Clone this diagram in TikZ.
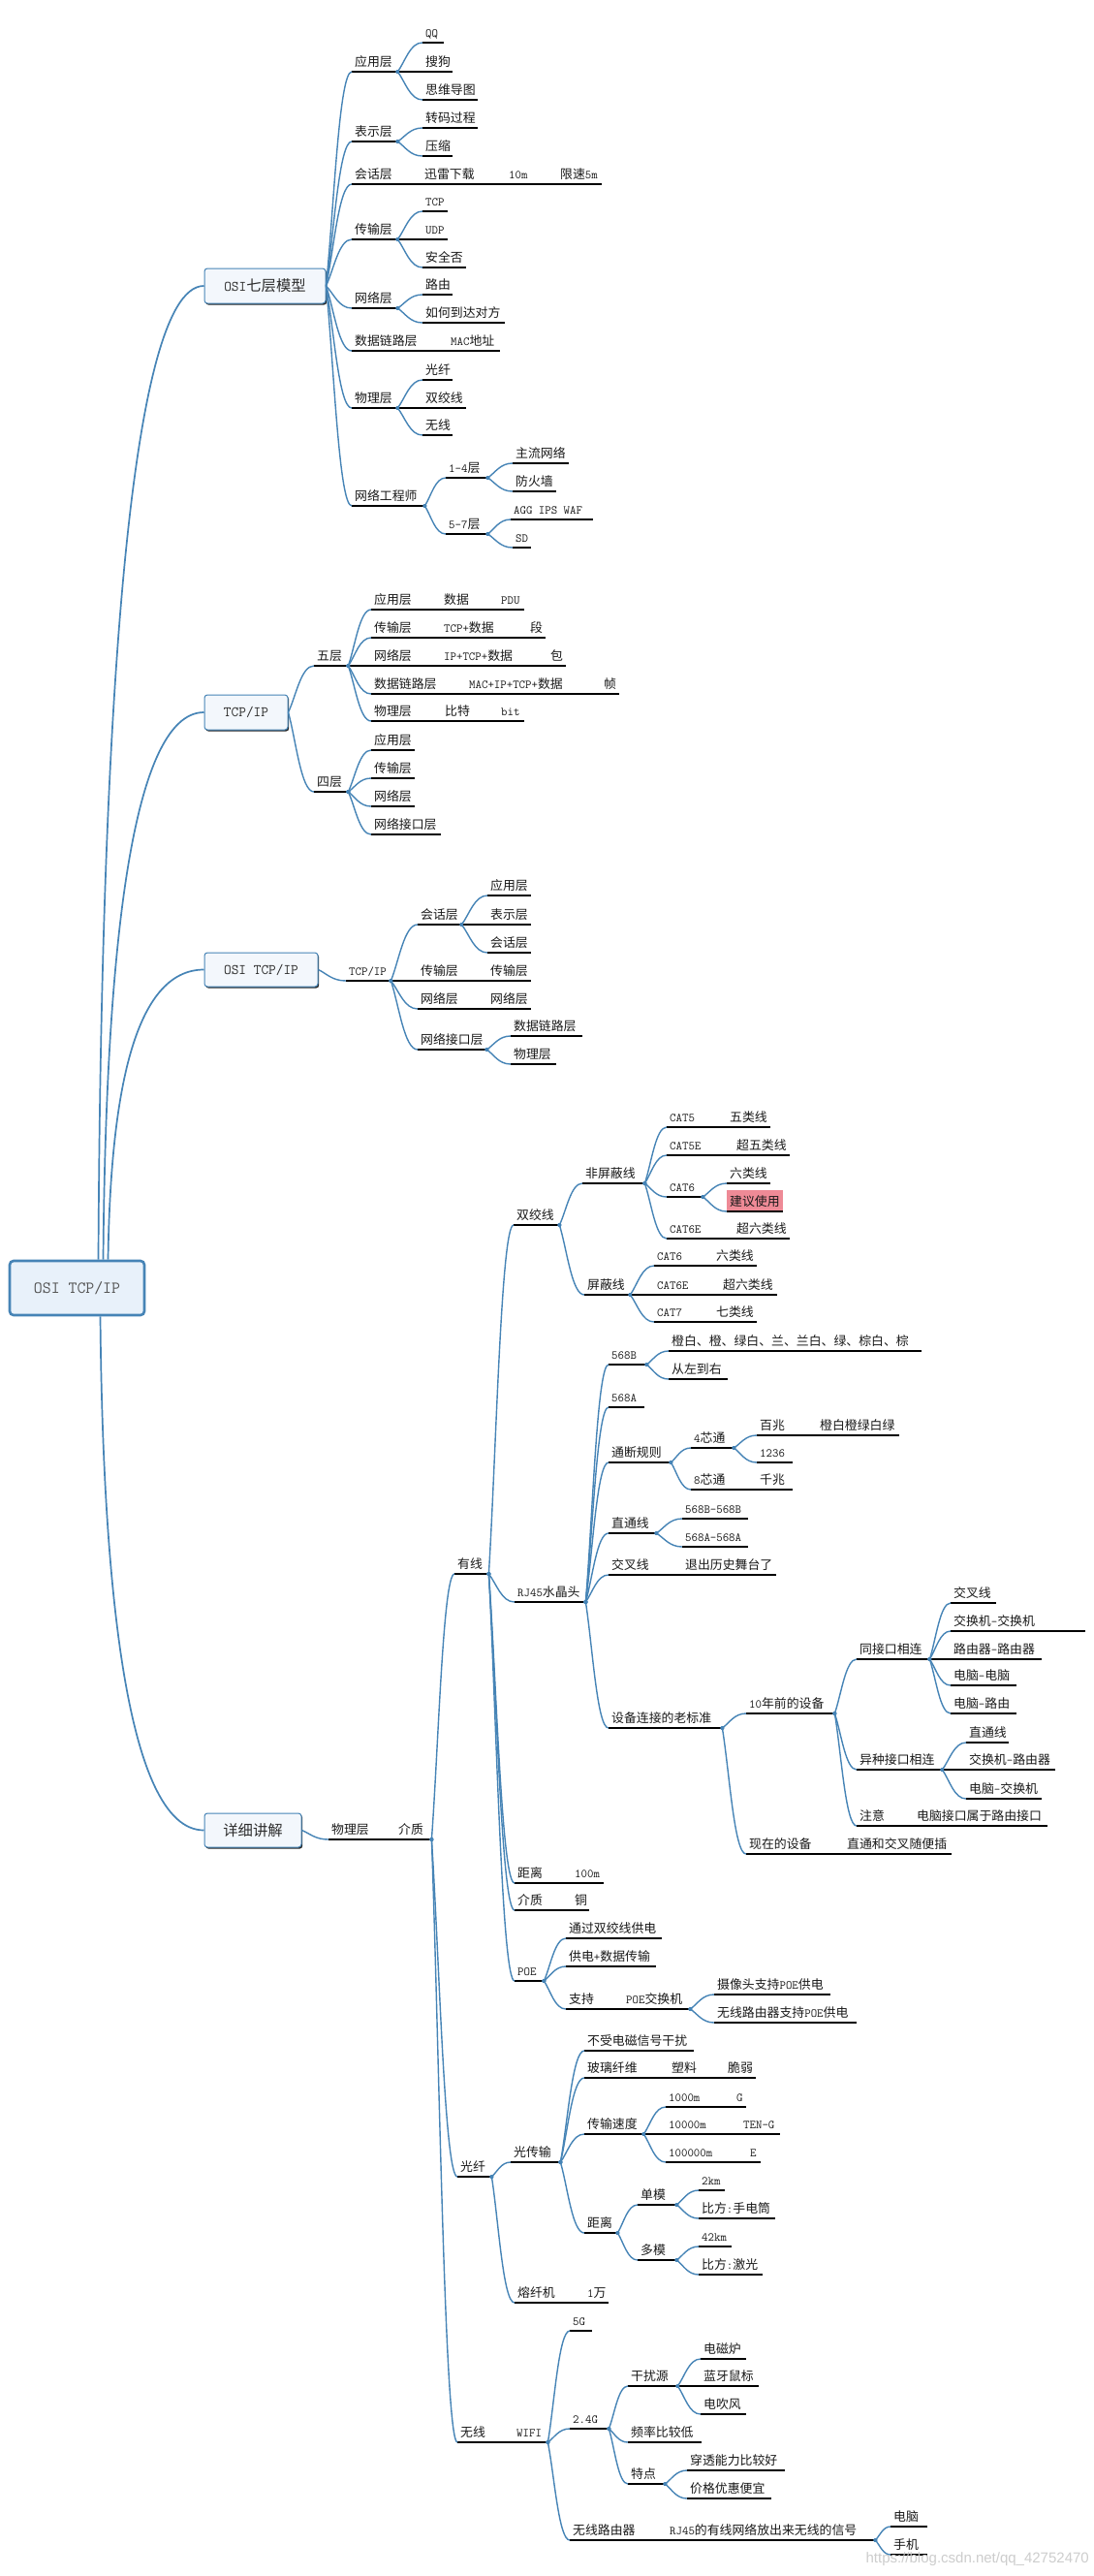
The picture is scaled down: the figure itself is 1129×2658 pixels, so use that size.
\documentclass[tikz,border=0pt]{standalone}
\usepackage{fontspec}
\newfontfamily\cjkfont[Scale=1.03]{Noto Sans CJK SC}
\newfontfamily\wmfont{Liberation Sans}
\usetikzlibrary{calc,shadows}
\XeTeXinterchartokenstate=1
\newXeTeXintercharclass\CJKcls
\newcount\ccnt
\ccnt="3000
\loop\ifnum\ccnt<"A000\relax \XeTeXcharclass\ccnt=\CJKcls \advance\ccnt by 1 \repeat
\ccnt="FF00
\loop\ifnum\ccnt<"FFF0\relax \XeTeXcharclass\ccnt=\CJKcls \advance\ccnt by 1 \repeat
\XeTeXinterchartoks 0 \CJKcls = {\cjkfont}
\XeTeXinterchartoks 4095 \CJKcls = {\cjkfont}
\XeTeXinterchartoks \CJKcls 0 = {\ttfamily}
\definecolor{connc}{RGB}{70,132,182}
\definecolor{mfill}{RGB}{243,247,252}
\definecolor{rfill}{RGB}{232,241,250}
\definecolor{hlc}{RGB}{238,138,150}
\definecolor{txtc}{RGB}{25,25,25}
\definecolor{maintxt}{RGB}{45,45,45}
\definecolor{roottxt}{RGB}{85,85,85}
\definecolor{wmc}{RGB}{205,205,205}
\newcommand\leaff{\fontsize{12.5}{15}\selectfont\ttfamily}
\newcommand\mainf{\fontsize{14.9}{17}\selectfont\ttfamily}
\newcommand\rootf{\fontsize{17.3}{20}\selectfont\ttfamily}
\tikzset{
  tp/.style={anchor=south west, inner xsep=3pt, inner ysep=5pt, text depth=0pt, font=\leaff, text=txtc},
  hl/.style={fill=hlc, text height=12pt},
  ul/.style={draw=black, line width=1.3pt},
  conn/.style={draw=connc, line width=1.4pt},
  rootconn/.style={draw=connc, line width=1.7pt},
  mainbox/.style={draw=connc, fill=mfill, rounded corners=3pt, line width=1pt, inner sep=0pt, font=\mainf, text=maintxt,
    drop shadow={shadow xshift=1.2pt, shadow yshift=-1.6pt, opacity=1, fill=black!85}},
  rootbox/.style={draw=connc, fill=rfill, rounded corners=4pt, line width=2.6pt, inner sep=0pt, font=\rootf, text=roottxt},
}
\newcommand\mmnode[6][]{\pgfmathsetmacro\tw{#5-#3-6}\node[tp,#1] (#2) at (#3,#4) {\makebox[\tw pt][l]{#6}};\draw[ul] (#2.south west) -- (#2.south east);}
\newcommand\mmcc[2]{\draw[conn] let \p1=(#1), \p2=(#2) in (\p1) .. controls ({\x1+0.3*(\x2-\x1)},{\y1+0.35*(\y2-\y1)}) and ({0.5*(\x1+\x2)},\y2) .. (\p2);}
\newcommand\mmcn[2]{\mmcc{#1.south east}{#2.south west}\fill[connc] (#1.south east) circle (2pt);}
\newcommand\mmsn[2]{\draw[ul] (#1.south east) -- (#2.south west);}
\begin{document}
\begin{tikzpicture}[x=1pt,y=-1pt]
\fill[white] (0,0) rectangle (1129,2658);
\useasboundingbox (0,0) rectangle (1129,2658);
% main boxes
\node[rootbox, minimum width=139pt, minimum height=56pt] (root) at (79.5,1329) {OSI TCP/IP};
\node[mainbox, minimum width=125pt, minimum height=36pt] (m1) at (273.5,295) {OSI七层模型};
\node[mainbox, minimum width=86pt, minimum height=36pt] (m2) at (254,735) {TCP/IP};
\node[mainbox, minimum width=117pt, minimum height=35pt] (m3) at (269.5,1000.5) {OSI TCP/IP};
\node[mainbox, minimum width=100pt, minimum height=35pt] (m4) at (261,1888.5) {详细讲解};
\draw[rootconn] ([xshift=22pt]root.north) .. controls (104,800) and (128,295) .. (m1.west);
\draw[rootconn] ([xshift=27pt]root.north) .. controls (109,1000) and (133,735) .. (m2.west);
\draw[rootconn] ([xshift=32pt]root.north) .. controls (114,1130) and (138,1000.5) .. (m3.west);
\draw[rootconn] ([xshift=24pt]root.south) .. controls (106,1620) and (128,1888.5) .. (m4.west);
% ---------- OSI seven layers
\mmnode{s1}{363}{74}{410}{应用层}
\mmnode{s1a}{436}{44}{458}{QQ}
\mmnode{s1b}{436}{74}{467}{搜狗}
\mmnode{s1c}{436}{103}{493}{思维导图}
\mmnode{s2}{363}{146}{410}{表示层}
\mmnode{s2a}{436}{132}{493}{转码过程}
\mmnode{s2b}{436}{161}{467}{压缩}
\mmnode{s3}{363}{190}{431}{会话层}
\mmnode{s3a}{435}{190}{518}{迅雷下载}
\mmnode{s3b}{522}{190}{571}{10m}
\mmnode{s3c}{575}{190}{621}{限速5m}
\mmnode{s4}{363}{247}{410}{传输层}
\mmnode{s4a}{436}{218}{462}{TCP}
\mmnode{s4b}{436}{247}{462}{UDP}
\mmnode{s4c}{436}{276}{481}{安全否}
\mmnode{s5}{363}{318}{410}{网络层}
\mmnode{s5a}{436}{304}{467}{路由}
\mmnode{s5b}{436}{333}{521}{如何到达对方}
\mmnode{s6}{363}{362}{458}{数据链路层}
\mmnode{s6a}{462}{362}{516}{MAC地址}
\mmnode{s7}{363}{421}{410}{物理层}
\mmnode{s7a}{436}{392}{467}{光纤}
\mmnode{s7b}{436}{421}{481}{双绞线}
\mmnode{s7c}{436}{449}{467}{无线}
\mmnode{s8}{363}{522}{438}{网络工程师}
\mmnode{s8a}{460}{493}{503}{1-4层}
\mmnode{s8a1}{529}{478}{587}{主流网络}
\mmnode{s8a2}{529}{507}{574}{防火墙}
\mmnode{s8b}{460}{551}{503}{5-7层}
\mmnode{s8b1}{527}{536}{612}{AGG IPS WAF}
\mmnode{s8b2}{529}{565}{548}{SD}
\foreach \c in {s1,s2,s3,s4,s5,s6,s7,s8}{\mmcc{m1.east}{\c.south west}}
\mmcn{s1}{s1a}\mmsn{s1}{s1b}\mmcn{s1}{s1c}
\mmcn{s2}{s2a}\mmcn{s2}{s2b}
\mmsn{s3}{s3a}\mmsn{s3a}{s3b}\mmsn{s3b}{s3c}
\mmcn{s4}{s4a}\mmsn{s4}{s4b}\mmcn{s4}{s4c}
\mmcn{s5}{s5a}\mmcn{s5}{s5b}
\mmsn{s6}{s6a}
\mmcn{s7}{s7a}\mmsn{s7}{s7b}\mmcn{s7}{s7c}
\mmcn{s8}{s8a}\mmcn{s8}{s8b}
\mmcn{s8a}{s8a1}\mmcn{s8a}{s8a2}\mmcn{s8b}{s8b1}\mmcn{s8b}{s8b2}
% ---------- TCP/IP
\mmnode{t1}{324}{687}{359}{五层}
\mmnode{t1a}{383}{629}{452}{应用层}\mmnode{t1a1}{455}{629}{510}{数据}\mmnode{t1a2}{514}{629}{541}{PDU}
\mmnode{t1b}{383}{658}{452}{传输层}\mmnode{t1b1}{455}{658}{541}{TCP+数据}\mmnode{t1b2}{544}{658}{563}{段}
\mmnode{t1c}{383}{687}{452}{网络层}\mmnode{t1c1}{455}{687}{562}{IP+TCP+数据}\mmnode{t1c2}{565}{687}{584}{包}
\mmnode{t1d}{383}{716}{478}{数据链路层}\mmnode{t1d1}{481}{716}{617}{MAC+IP+TCP+数据}\mmnode{t1d2}{620}{716}{639}{帧}
\mmnode{t1e}{383}{744}{452}{物理层}\mmnode{t1e1}{456}{744}{510}{比特}\mmnode{t1e2}{514}{744}{541}{bit}
\mmnode{t2}{324}{817}{359}{四层}
\mmnode{t2a}{383}{774}{428}{应用层}
\mmnode{t2b}{383}{803}{428}{传输层}
\mmnode{t2c}{383}{832}{428}{网络层}
\mmnode{t2d}{383}{861}{455}{网络接口层}
\mmcc{m2.east}{t1.south west}\mmcc{m2.east}{t2.south west}
\mmcn{t1}{t1a}\mmcn{t1}{t1b}\mmsn{t1}{t1c}\mmcn{t1}{t1d}\mmcn{t1}{t1e}
\mmsn{t1a}{t1a1}\mmsn{t1a1}{t1a2}\mmsn{t1b}{t1b1}\mmsn{t1b1}{t1b2}\mmsn{t1c}{t1c1}\mmsn{t1c1}{t1c2}
\mmsn{t1d}{t1d1}\mmsn{t1d1}{t1d2}\mmsn{t1e}{t1e1}\mmsn{t1e1}{t1e2}
\mmcn{t2}{t2a}\mmcn{t2}{t2b}\mmcn{t2}{t2c}\mmcn{t2}{t2d}
% ---------- OSI TCP/IP
\mmnode{u1}{357}{1012}{403}{TCP/IP}
\mmnode{u1a}{431}{954}{476}{会话层}
\mmnode{u1a1}{503}{924}{548}{应用层}
\mmnode{u1a2}{503}{954}{548}{表示层}
\mmnode{u1a3}{503}{983}{548}{会话层}
\mmnode{u1b}{431}{1012}{500}{传输层}\mmnode{u1b1}{503}{1012}{548}{传输层}
\mmnode{u1c}{431}{1041}{500}{网络层}\mmnode{u1c1}{503}{1041}{548}{网络层}
\mmnode{u1d}{431}{1083}{502}{网络接口层}
\mmnode{u1d1}{527}{1069}{601}{数据链路层}
\mmnode{u1d2}{527}{1098}{574}{物理层}
\mmcc{m3.east}{u1.south west}
\mmcn{u1}{u1a}\mmsn{u1}{u1b}\mmcn{u1}{u1c}\mmcn{u1}{u1d}
\mmcn{u1a}{u1a1}\mmsn{u1a}{u1a2}\mmcn{u1a}{u1a3}
\mmsn{u1b}{u1b1}\mmsn{u1c}{u1c1}
\mmcn{u1d}{u1d1}\mmcn{u1d}{u1d2}
% ---------- detail
\mmnode{p}{339}{1898}{405}{物理层}\mmnode{pm}{408}{1898}{445}{介质}
\mmcc{m4.east}{p.south west}\mmsn{p}{pm}
\mmnode{w}{469}{1624}{504}{有线}
\mmnode{w1}{530}{1264}{577}{双绞线}
\mmnode{w1a}{601}{1221}{665}{非屏蔽线}
\mmnode{c5}{688}{1163}{745}{CAT5}\mmnode{c5x}{750}{1163}{795}{五类线}
\mmnode{c5e}{688}{1192}{752}{CAT5E}\mmnode{c5ex}{757}{1192}{815}{超五类线}
\mmnode{c6}{688}{1235}{725}{CAT6}
\mmnode{c6x}{750}{1221}{795}{六类线}
\mmnode[hl]{c6y}{750}{1250}{808}{建议使用}
\mmnode{c6e}{688}{1278}{752}{CAT6E}\mmnode{c6ex}{757}{1278}{815}{超六类线}
\mmnode{w1b}{603}{1336}{650}{屏蔽线}
\mmnode{d6}{675}{1306}{733}{CAT6}\mmnode{d6x}{736}{1306}{781}{六类线}
\mmnode{d6e}{675}{1336}{740}{CAT6E}\mmnode{d6ex}{743}{1336}{802}{超六类线}
\mmnode{d7}{675}{1364}{733}{CAT7}\mmnode{d7x}{736}{1364}{781}{七类线}
\mmnode{w2}{531}{1653}{604}{RJ45水晶头}
\mmnode{r1}{628}{1408}{667}{568B}
\mmnode{r1a}{690}{1394}{951}{橙白、橙、绿白、兰、兰白、绿、棕白、棕}
\mmnode{r1b}{690}{1423}{751}{从左到右}
\mmnode{r2}{628}{1452}{665}{568A}
\mmnode{r3}{628}{1509}{692}{通断规则}
\mmnode{r3a}{713}{1494}{757}{4芯通}
\mmnode{r3a1}{781}{1481}{840}{百兆}\mmnode{r3a1x}{843}{1481}{928}{橙白橙绿白绿}
\mmnode{r3a2}{781}{1509}{818}{1236}
\mmnode{r3b}{713}{1537}{757}{8芯通}\mmnode{r3b1}{781}{1537}{818}{千兆}
\mmnode{r4}{628}{1582}{677}{直通线}
\mmnode{r4a}{704}{1567}{772}{568B-568B}
\mmnode{r4b}{704}{1596}{772}{568A-568A}
\mmnode{r5}{628}{1625}{700}{交叉线}\mmnode{r5a}{704}{1625}{801}{退出历史舞台了}
\mmnode{r6}{628}{1783}{745}{设备连接的老标准}
\mmnode{r6a}{770}{1768}{861}{10年前的设备}
\mmnode{r6a1}{884}{1712}{959}{同接口相连}
\mmnode{q1}{981}{1654}{1028}{交叉线}
\mmnode{q2}{981}{1683}{1075}{交换机-交换机}\mmnode{q2e}{1078}{1683}{1120}{}
\mmnode{q3}{981}{1712}{1075}{路由器-路由器}
\mmnode{q4}{981}{1739}{1049}{电脑-电脑}
\mmnode{q5}{981}{1768}{1049}{电脑-路由}
\mmnode{r6a2}{884}{1826}{972}{异种接口相连}
\mmnode{q6}{997}{1798}{1041}{直通线}
\mmnode{q7}{997}{1826}{1089}{交换机-路由器}
\mmnode{q8}{997}{1856}{1075}{电脑-交换机}
\mmnode{r6a3}{884}{1884}{940}{注意}\mmnode{r6a3x}{943}{1884}{1081}{电脑接口属于路由接口}
\mmnode{r6b}{770}{1913}{868}{现在的设备}\mmnode{r6bx}{871}{1913}{982}{直通和交叉随便插}
\mmnode{w3}{531}{1943}{587}{距离}\mmnode{w3a}{590}{1943}{623}{100m}
\mmnode{w4}{531}{1971}{587}{介质}\mmnode{w4a}{590}{1971}{608}{铜}
\mmnode{w5}{531}{2044}{561}{POE}
\mmnode{w5a}{584}{2000}{683}{通过双绞线供电}
\mmnode{w5b}{584}{2029}{677}{供电+数据传输}
\mmnode{w5c}{584}{2073}{640}{支持}\mmnode{w5cx}{643}{2073}{712}{POE交换机}
\mmnode{w5c1}{737}{2058}{857}{摄像头支持POE供电}
\mmnode{w5c2}{737}{2087}{884}{无线路由器支持POE供电}
\mmnode{f}{472}{2246}{507}{光纤}
\mmnode{f1}{527}{2231}{578}{光传输}
\mmnode{f1a}{603}{2116}{716}{不受电磁信号干扰}
\mmnode{f1b}{603}{2144}{687}{玻璃纤维}\mmnode{f1bx}{690}{2144}{745}{塑料}\mmnode{f1by}{748}{2144}{780}{脆弱}
\mmnode{f1c}{603}{2202}{664}{传输速度}
\mmnode{g1}{687}{2174}{755}{1000m}\mmnode{g1x}{757}{2174}{770}{G}
\mmnode{g2}{687}{2202}{762}{10000m}\mmnode{g2x}{764}{2202}{805}{TEN-G}
\mmnode{g3}{687}{2231}{768}{100000m}\mmnode{g3x}{771}{2231}{785}{E}
\mmnode{f1d}{603}{2304}{637}{距离}
\mmnode{h1}{658}{2275}{698}{单模}
\mmnode{h1a}{721}{2260}{748}{2km}
\mmnode{h1b}{721}{2289}{800}{比方:手电筒}
\mmnode{h2}{658}{2332}{698}{多模}
\mmnode{h2a}{721}{2318}{755}{42km}
\mmnode{h2b}{721}{2347}{787}{比方:激光}
\mmnode{f2}{531}{2376}{600}{熔纤机}\mmnode{f2x}{603}{2376}{628}{1万}
\mmnode{x}{472}{2520}{527}{无线}\mmnode{xw}{530}{2520}{565}{WIFI}
\mmnode{x1}{588}{2405}{611}{5G}
\mmnode{x2}{588}{2506}{628}{2.4G}
\mmnode{x2a}{648}{2462}{699}{干扰源}
\mmnode{x2a1}{723}{2434}{770}{电磁炉}
\mmnode{x2a2}{723}{2462}{783}{蓝牙鼠标}
\mmnode{x2a3}{723}{2491}{770}{电吹风}
\mmnode{x2b}{648}{2520}{724}{频率比较低}
\mmnode{x2c}{648}{2563}{686}{特点}
\mmnode{x2c1}{709}{2549}{810}{穿透能力比较好}
\mmnode{x2c2}{709}{2578}{796}{价格优惠便宜}
\mmnode{x3}{588}{2621}{685}{无线路由器}\mmnode{x3x}{688}{2621}{903}{RJ45的有线网络放出来无线的信号}
\mmnode{x3a}{919}{2607}{957}{电脑}
\mmnode{x3b}{919}{2636}{957}{手机}
% connectors detail
\mmcn{pm}{w}\mmcn{pm}{f}\mmcn{pm}{x}
\mmcn{w}{w1}\mmcn{w}{w2}\mmcn{w}{w3}\mmcn{w}{w4}\mmcn{w}{w5}
\mmcn{w1}{w1a}\mmcn{w1}{w1b}
\mmcn{w1a}{c5}\mmcn{w1a}{c5e}\mmcn{w1a}{c6}\mmcn{w1a}{c6e}
\mmsn{c5}{c5x}\mmsn{c5e}{c5ex}\mmsn{c6e}{c6ex}
\mmcn{c6}{c6x}\mmcn{c6}{c6y}
\mmcn{w1b}{d6}\mmsn{w1b}{d6e}\mmcn{w1b}{d7}
\mmsn{d6}{d6x}\mmsn{d6e}{d6ex}\mmsn{d7}{d7x}
\mmcn{w2}{r1}\mmcn{w2}{r2}\mmcn{w2}{r3}\mmcn{w2}{r4}\mmcn{w2}{r5}\mmcn{w2}{r6}
\mmcn{r1}{r1a}\mmcn{r1}{r1b}
\mmcn{r3}{r3a}\mmcn{r3}{r3b}\mmcn{r3a}{r3a1}\mmcn{r3a}{r3a2}\mmsn{r3a1}{r3a1x}\mmsn{r3b}{r3b1}
\mmcn{r4}{r4a}\mmcn{r4}{r4b}
\mmsn{r5}{r5a}
\mmcn{r6}{r6a}\mmcn{r6}{r6b}
\mmcn{r6a}{r6a1}\mmcn{r6a}{r6a2}\mmcn{r6a}{r6a3}
\mmcn{r6a1}{q1}\mmcn{r6a1}{q2}\mmsn{r6a1}{q3}\mmcn{r6a1}{q4}\mmcn{r6a1}{q5}
\mmsn{q2}{q2e}
\mmcn{r6a2}{q6}\mmsn{r6a2}{q7}\mmcn{r6a2}{q8}
\mmsn{r6a3}{r6a3x}\mmsn{r6b}{r6bx}
\mmsn{w3}{w3a}\mmsn{w4}{w4a}
\mmcn{w5}{w5a}\mmcn{w5}{w5b}\mmcn{w5}{w5c}\mmsn{w5c}{w5cx}\mmcn{w5cx}{w5c1}\mmcn{w5cx}{w5c2}
\mmcn{f}{f1}\mmcn{f}{f2}
\mmcn{f1}{f1a}\mmcn{f1}{f1b}\mmcn{f1}{f1c}\mmcn{f1}{f1d}
\mmsn{f1b}{f1bx}\mmsn{f1bx}{f1by}
\mmcn{f1c}{g1}\mmsn{f1c}{g2}\mmcn{f1c}{g3}
\mmsn{g1}{g1x}\mmsn{g2}{g2x}\mmsn{g3}{g3x}
\mmcn{f1d}{h1}\mmcn{f1d}{h2}\mmcn{h1}{h1a}\mmcn{h1}{h1b}\mmcn{h2}{h2a}\mmcn{h2}{h2b}
\mmsn{f2}{f2x}
\mmsn{x}{xw}
\mmcn{xw}{x1}\mmcn{xw}{x2}\mmcn{xw}{x3}
\mmcn{x2}{x2a}\mmcn{x2}{x2b}\mmcn{x2}{x2c}
\mmcn{x2a}{x2a1}\mmsn{x2a}{x2a2}\mmcn{x2a}{x2a3}
\mmcn{x2c}{x2c1}\mmcn{x2c}{x2c2}
\mmsn{x3}{x3x}\mmcn{x3x}{x3a}\mmcn{x3x}{x3b}
\node[font=\wmfont\fontsize{15}{17}\selectfont, text=wmc, anchor=east, inner sep=0pt] (wmk) at (1124,2641) {https://blog.csdn.net/qq\_42752470};
\end{tikzpicture}
\end{document}
